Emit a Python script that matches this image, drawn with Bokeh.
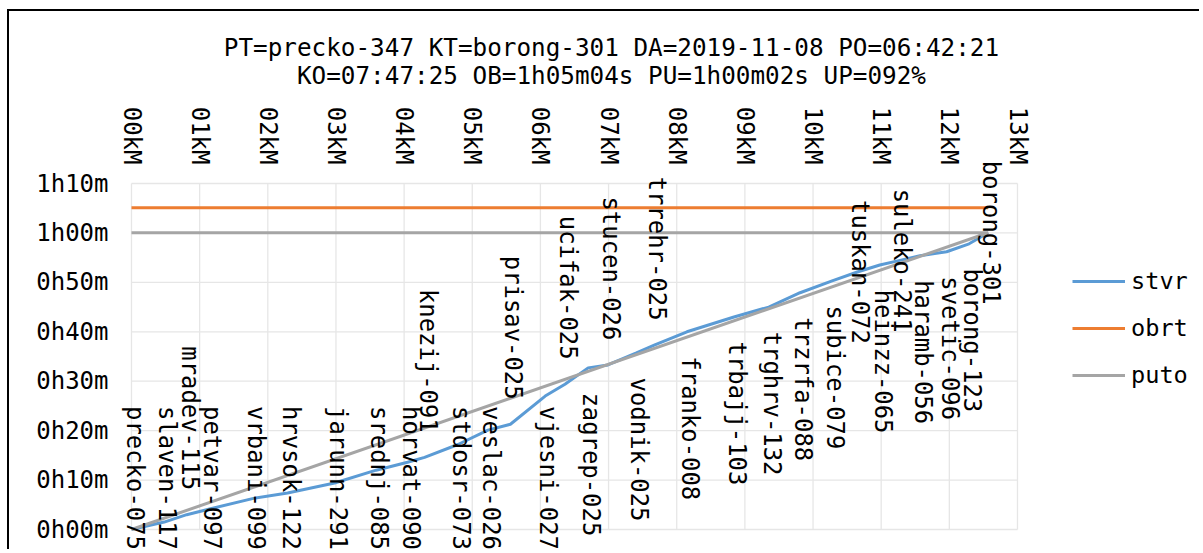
import math
from bokeh.plotting import figure
from bokeh.models import (ColumnDataSource, LabelSet, FixedTicker, Legend,
                          LegendItem, Range1d)
from bokeh.core.properties import value
from bokeh.embed import file_html
from bokeh.resources import INLINE

# ---------------- data ----------------
title_line1 = "PT=precko-347 KT=borong-301 DA=2019-11-08 PO=06:42:21"
title_line2 = "KO=07:47:25 OB=1h05m04s PU=1h00m02s UP=092%"

stations = ["precko-075", "slaven-117", "mradev-115", "petvar-097", "vrbani-099",
            "hrvsok-122", "jarunn-291", "srednj-085", "horvat-090", "knezij-091",
            "stdosr-073", "veslac-026", "prisav-025", "vjesni-027", "ucifak-025",
            "zagrep-025", "stucen-026", "vodnik-025", "trrehr-025", "franko-008",
            "trbajj-103", "trghrv-132", "trzrfa-088", "subice-079", "tuskan-072",
            "heinzz-065", "suleko-241", "haramb-056", "svetic-096", "borong-123",
            "borong-301"]
station_km = [0.00, 0.48, 0.81, 1.13, 1.79, 2.29, 2.98, 3.59, 4.05, 4.30,
              4.79, 5.23, 5.56, 6.07, 6.36, 6.70, 6.99, 7.40, 7.67, 8.15,
              8.84, 9.35, 9.81, 10.28, 10.65, 10.98, 11.26, 11.57, 11.96, 12.29,
              12.57]
stvr_min = [0.0, 1.5, 3.0, 4.1, 6.3, 7.4, 9.4, 12.0, 13.6, 14.6,
            17.2, 20.1, 21.3, 27.0, 29.4, 32.7, 33.3, 35.7, 37.3, 40.0,
            43.0, 45.0, 47.9, 50.3, 52.1, 53.5, 54.4, 55.4, 56.2, 57.8,
            60.03]
# data-label placement per point (like Excel's Above / Below / Center)
label_pos = ["below", "below", "above", "below", "below", "below", "below", "below",
             "below", "above", "below", "below", "above", "below", "above", "below",
             "above", "below", "above", "below", "below", "below", "below", "below",
             "center", "below", "center", "below", "below", "below", "center"]

total_km = 12.57
obrt_min = 65.07      # OB = 1h05m04s
puto_min = 60.03      # PU = 1h00m02s

obrt_km = [0.0, total_km]
obrt_val = [obrt_min, obrt_min]
puto_km = [0.0, total_km, 0.0]
puto_val = [0.0, puto_min, puto_min]

km_ticks = list(range(0, 14))
km_labels = ["%02dkM" % k for k in km_ticks]
min_ticks = list(range(0, 80, 10))
min_labels = ["%dh%02dm" % (m // 60, m % 60) for m in min_ticks]

# ---------------- style / layout (pixels) ----------------
FONT = "DejaVu Sans Mono"
FS_TITLE = "24.3px"
FS_AXIS = "24px"
FS_LABEL = "23.9px"
FS_LEGEND = "23.6px"
ORIGIN_X, ORIGIN_Y = 9, 11          # figure content origin in the page
W, H = 1192, 540
PLOT_L, PLOT_T, PLOT_B = 131, 183, 529   # where 0 km / 1h10m / 0h00m sit
PX_PER_KM = 886.0 / 13.0
PX_PER_MIN = (PLOT_B - PLOT_T) / 70.0
X0 = -(PLOT_L - ORIGIN_X) / PX_PER_KM
X1 = (ORIGIN_X + W - PLOT_L) / PX_PER_KM
Y0 = -(ORIGIN_Y + H - PLOT_B) / PX_PER_MIN
Y1 = (PLOT_B - ORIGIN_Y) / PX_PER_MIN
LABEL_LEN = 143.0
GAP = 25.0
BOTTOM_ROOM = 20.0                  # px the labels may go below 0h00m
BLUE, ORANGE, GRAY = "#5B9BD5", "#ED7D31", "#A5A5A5"
GRID = "#E6E6E6"

p = figure(width=W, height=H, x_range=Range1d(X0, X1), y_range=Range1d(Y0, Y1),
           x_axis_location="above", output_backend="svg", toolbar_location=None,
           min_border=0)
p.styles = {"margin-left": "7px", "margin-top": "9px",
            "border-top": "2px solid #000", "border-left": "2px solid #000"}
p.outline_line_color = None
p.background_fill_color = "white"
p.border_fill_color = "white"

xa = p.xaxis[0]
xa.fixed_location = min_ticks[-1]
xa.ticker = FixedTicker(ticks=km_ticks)
xa.major_label_overrides = {k: s for k, s in zip(km_ticks, km_labels)}
xa.major_label_orientation = -math.pi / 2
ya = p.yaxis[0]
ya.fixed_location = km_ticks[0]
ya.ticker = FixedTicker(ticks=min_ticks)
ya.major_label_overrides = {m: s for m, s in zip(min_ticks, min_labels)}
for ax, so in ((xa, 19), (ya, 23)):
    ax.axis_line_color = None
    ax.major_tick_line_color = None
    ax.minor_tick_line_color = None
    ax.major_tick_out = 0
    ax.major_tick_in = 0
    ax.major_label_standoff = so
    ax.major_label_text_font = FONT
    ax.major_label_text_font_size = FS_AXIS
    ax.major_label_text_color = "#000000"

p.xgrid.visible = False
p.ygrid.visible = False
# grid limited to the 0..13 km x 0..70 min box
p.segment(x0=[km_ticks[0]] * len(min_ticks), x1=[km_ticks[-1]] * len(min_ticks),
          y0=min_ticks, y1=min_ticks, line_color=GRID, line_width=1.3)
p.segment(x0=km_ticks, x1=km_ticks, y0=[min_ticks[0]] * len(km_ticks),
          y1=[min_ticks[-1]] * len(km_ticks), line_color=GRID, line_width=1.3)

# two-line title (centred text, placed in the band above the km axis)
title_cx = (611 - PLOT_L) / PX_PER_KM
title_src = ColumnDataSource(dict(
    x=[title_cx, title_cx],
    y=[(PLOT_B - 47) / PX_PER_MIN, (PLOT_B - 75) / PX_PER_MIN],
    t=[title_line1, title_line2]))
p.add_layout(LabelSet(x="x", y="y", text="t", source=title_src,
                      text_align="center", text_baseline="middle",
                      text_font=value(FONT), text_font_size=value(FS_TITLE),
                      text_color="#000000"))

r_stvr = p.line(station_km, stvr_min, line_color=BLUE, line_width=3)
r_obrt = p.line(obrt_km, obrt_val, line_color=ORANGE, line_width=3)
r_puto = p.line(puto_km, puto_val, line_color=GRAY, line_width=3)

# data labels
half = LABEL_LEN / 2.0
lowest_center = (half - BOTTOM_ROOM) / PX_PER_MIN
label_y = []
for t, pos in zip(stvr_min, label_pos):
    if pos == "below":
        c = t - (GAP + half) / PX_PER_MIN
    elif pos == "above":
        c = t + (GAP + half) / PX_PER_MIN
    else:
        c = t
    label_y.append(max(c, lowest_center))

src = ColumnDataSource(dict(x=station_km, y=label_y, name=stations))
labels = LabelSet(x="x", y="y", text="name", source=src, angle=-math.pi / 2,
                  text_align="center", text_baseline="middle", x_offset=3,
                  text_font=value(FONT), text_font_size=value(FS_LABEL),
                  text_color="#000000")
p.add_layout(labels)

legend = Legend(items=[LegendItem(label="stvr", renderers=[r_stvr]),
                       LegendItem(label="obrt", renderers=[r_obrt]),
                       LegendItem(label="puto", renderers=[r_puto])],
                location=(1072 - ORIGIN_X, ORIGIN_Y + H - 389), orientation="vertical",
                glyph_width=53, glyph_height=28, label_height=28,
                label_standoff=6, spacing=19, padding=0, margin=0,
                border_line_color=None, background_fill_alpha=0,
                label_text_font=FONT, label_text_font_size=FS_LEGEND,
                label_text_color="#000000")
p.add_layout(legend)

open("out.html", "w").write(file_html(p, INLINE))
